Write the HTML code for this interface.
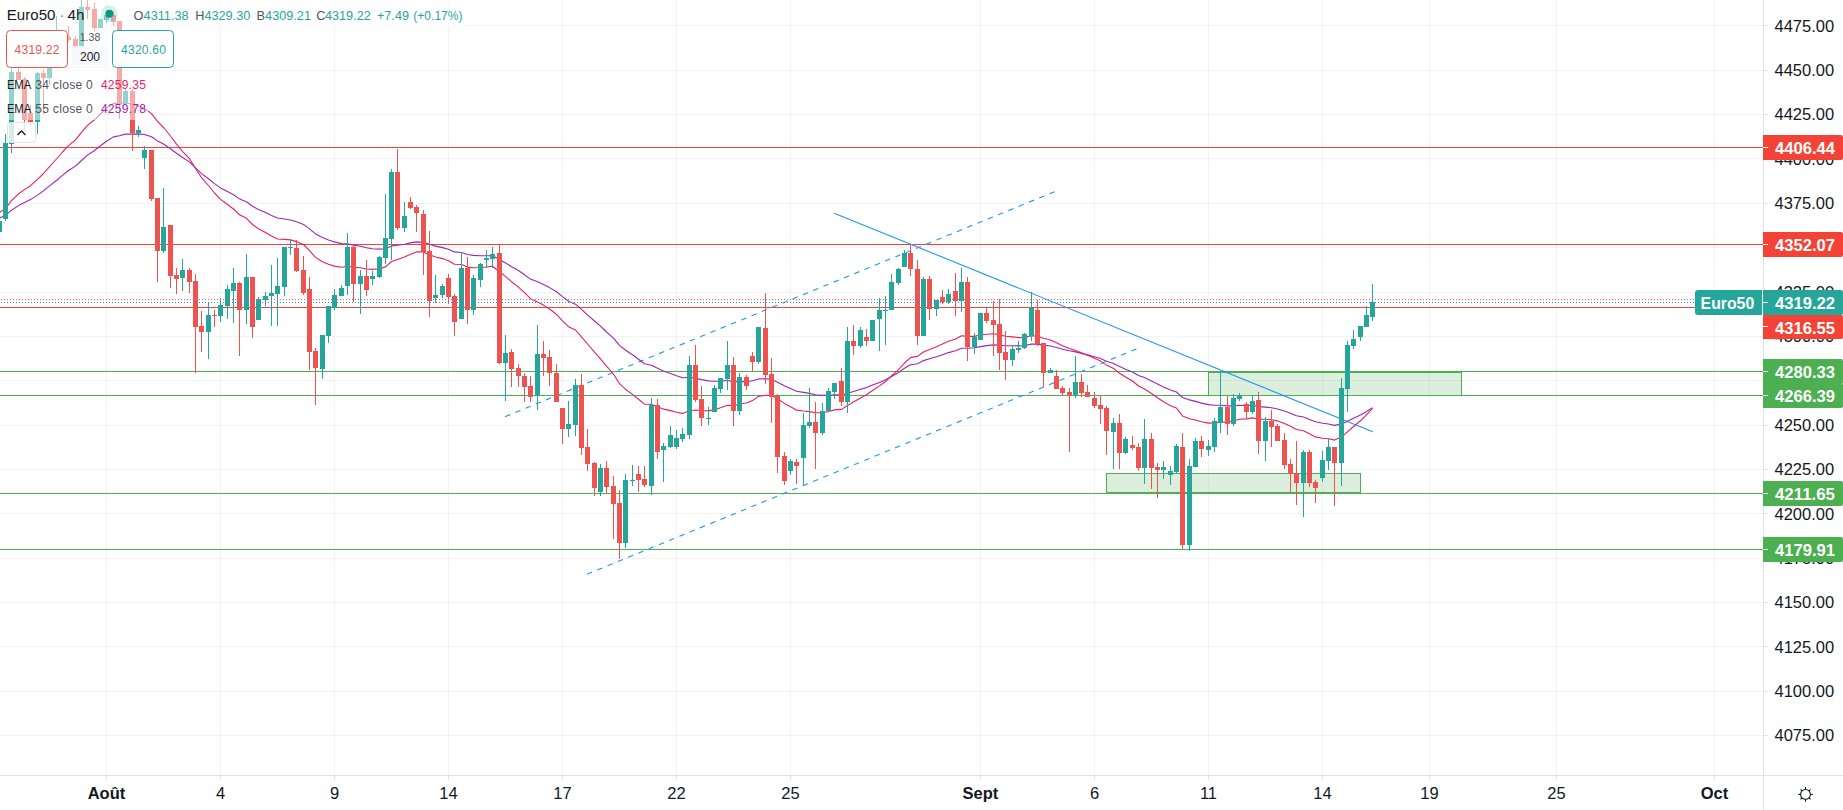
<!DOCTYPE html>
<html lang="fr"><head><meta charset="utf-8"><title>Euro50 4h</title>
<style>html,body{margin:0;padding:0;background:#fff;overflow:hidden}body{width:1843px;height:810px}svg{display:block}text{white-space:pre}</style>
</head><body>
<svg width="1843" height="810" viewBox="0 0 1843 810" font-family='"Liberation Sans", sans-serif'>
<rect width="1843" height="810" fill="#fff"/>
<g fill="rgba(42,46,57,0.06)" shape-rendering="crispEdges">
<rect x="106" y="0" width="1" height="775"/>
<rect x="220" y="0" width="1" height="775"/>
<rect x="334" y="0" width="1" height="775"/>
<rect x="448" y="0" width="1" height="775"/>
<rect x="562" y="0" width="1" height="775"/>
<rect x="676" y="0" width="1" height="775"/>
<rect x="790" y="0" width="1" height="775"/>
<rect x="980" y="0" width="1" height="775"/>
<rect x="1094" y="0" width="1" height="775"/>
<rect x="1208" y="0" width="1" height="775"/>
<rect x="1322" y="0" width="1" height="775"/>
<rect x="1429" y="0" width="1" height="775"/>
<rect x="1556" y="0" width="1" height="775"/>
<rect x="1714" y="0" width="1" height="775"/>
<rect x="0" y="25" width="1763" height="1"/>
<rect x="0" y="70" width="1763" height="1"/>
<rect x="0" y="114" width="1763" height="1"/>
<rect x="0" y="158" width="1763" height="1"/>
<rect x="0" y="203" width="1763" height="1"/>
<rect x="0" y="247" width="1763" height="1"/>
<rect x="0" y="292" width="1763" height="1"/>
<rect x="0" y="336" width="1763" height="1"/>
<rect x="0" y="380" width="1763" height="1"/>
<rect x="0" y="425" width="1763" height="1"/>
<rect x="0" y="469" width="1763" height="1"/>
<rect x="0" y="513" width="1763" height="1"/>
<rect x="0" y="558" width="1763" height="1"/>
<rect x="0" y="602" width="1763" height="1"/>
<rect x="0" y="646" width="1763" height="1"/>
<rect x="0" y="691" width="1763" height="1"/>
<rect x="0" y="735" width="1763" height="1"/>
</g>
<g shape-rendering="crispEdges">
<rect x="0" y="147" width="1763" height="1" fill="#f44336"/>
<rect x="0" y="244" width="1763" height="1" fill="#f44336"/>
<rect x="0" y="307" width="1763" height="1" fill="#f44336"/>
<rect x="0" y="371" width="1763" height="1" fill="#4caf50"/>
<rect x="0" y="395" width="1763" height="1" fill="#4caf50"/>
<rect x="0" y="493" width="1763" height="1" fill="#4caf50"/>
<rect x="0" y="549" width="1763" height="1" fill="#4caf50"/>
</g>
<rect x="1208.5" y="372.5" width="253" height="23" fill="rgba(76,175,80,0.2)" stroke="#4caf50" stroke-width="1"/>
<rect x="1106.5" y="473.5" width="254" height="19" fill="rgba(76,175,80,0.2)" stroke="#4caf50" stroke-width="1"/>
<g stroke="#2196f3" stroke-width="1.1" fill="none">
<line x1="834.2" y1="213.2" x2="1372.8" y2="431.8"/>
<line x1="505" y1="416.7" x2="1055.8" y2="191.2" stroke-dasharray="5.5 5.6"/>
<line x1="587" y1="574.2" x2="1138" y2="348.3" stroke-dasharray="5.5 5.6"/>
</g>
<path d="M-0.5,218.0 L5.5,215.3 L11.5,210.2 L18.5,205.6 L24.5,202.5 L30.5,199.6 L37.5,195.1 L43.5,190.9 L49.5,185.9 L56.5,180.5 L62.5,175.4 L68.5,170.5 L75.5,166.1 L81.5,160.5 L87.5,155.1 L94.5,150.5 L100.5,145.8 L106.5,141.2 L113.5,136.9 L119.5,135.7 L125.5,134.1 L132.5,134.1 L138.5,133.9 L144.5,134.5 L151.5,136.8 L157.5,140.9 L163.5,144.0 L170.5,148.7 L176.5,153.3 L182.5,157.5 L189.5,161.9 L195.5,167.8 L201.5,173.6 L208.5,178.7 L214.5,183.6 L220.5,187.9 L227.5,191.5 L233.5,194.8 L239.5,198.9 L246.5,201.7 L252.5,206.2 L258.5,209.5 L265.5,212.6 L271.5,215.5 L277.5,218.0 L284.5,219.0 L290.5,220.0 L296.5,221.8 L303.5,224.4 L309.5,228.9 L315.5,233.9 L322.5,237.5 L328.5,239.9 L334.5,241.9 L341.5,243.6 L347.5,243.7 L353.5,245.1 L360.5,246.2 L366.5,247.8 L372.5,248.8 L379.5,249.1 L385.5,248.7 L391.5,245.9 L397.5,245.3 L404.5,244.2 L410.5,242.9 L416.5,241.9 L423.5,242.2 L429.5,244.3 L435.5,246.1 L442.5,247.6 L448.5,249.3 L454.5,251.9 L461.5,252.5 L467.5,254.5 L473.5,255.4 L480.5,255.7 L486.5,255.8 L492.5,255.7 L499.5,259.5 L505.5,262.9 L511.5,266.7 L518.5,270.5 L524.5,274.7 L530.5,279.1 L537.5,281.8 L543.5,284.5 L549.5,287.6 L556.5,291.7 L562.5,296.6 L568.5,301.2 L575.5,304.2 L581.5,309.3 L587.5,314.8 L594.5,321.0 L600.5,326.2 L606.5,332.0 L613.5,338.1 L619.5,345.4 L625.5,350.2 L632.5,354.8 L638.5,359.3 L644.5,363.8 L651.5,365.2 L657.5,368.3 L663.5,371.1 L670.5,373.4 L676.5,375.7 L682.5,377.8 L689.5,377.3 L695.5,378.1 L701.5,379.6 L708.5,380.9 L714.5,381.2 L720.5,381.1 L727.5,380.5 L733.5,381.6 L739.5,381.4 L746.5,381.6 L752.5,380.8 L758.5,378.9 L765.5,378.8 L771.5,379.4 L777.5,382.2 L784.5,385.7 L790.5,388.4 L796.5,391.2 L803.5,392.4 L809.5,393.4 L815.5,394.8 L822.5,395.4 L828.5,395.3 L834.5,394.8 L841.5,395.1 L847.5,393.2 L853.5,391.5 L860.5,389.3 L866.5,387.6 L872.5,385.1 L879.5,382.5 L885.5,379.8 L891.5,376.4 L898.5,372.5 L904.5,368.3 L910.5,364.7 L917.5,363.7 L923.5,360.6 L929.5,358.8 L936.5,356.7 L942.5,354.7 L948.5,352.6 L955.5,350.7 L961.5,348.3 L967.5,348.2 L974.5,347.8 L980.5,346.6 L986.5,345.6 L993.5,344.9 L999.5,345.2 L1005.5,345.7 L1012.5,345.8 L1018.5,345.9 L1024.5,345.5 L1031.5,344.1 L1037.5,344.1 L1043.5,345.1 L1050.5,346.0 L1056.5,347.5 L1062.5,349.2 L1069.5,350.8 L1075.5,351.9 L1081.5,353.4 L1087.5,354.9 L1094.5,356.7 L1100.5,358.6 L1106.5,361.2 L1113.5,363.4 L1119.5,366.6 L1125.5,369.2 L1132.5,372.0 L1138.5,375.4 L1144.5,377.6 L1151.5,380.9 L1157.5,384.0 L1163.5,387.0 L1170.5,390.0 L1176.5,392.0 L1182.5,397.5 L1189.5,399.9 L1195.5,401.4 L1201.5,403.1 L1208.5,404.6 L1214.5,405.2 L1220.5,405.3 L1227.5,405.9 L1233.5,405.7 L1239.5,405.3 L1246.5,405.5 L1252.5,405.4 L1258.5,406.6 L1265.5,407.1 L1271.5,407.8 L1277.5,409.0 L1284.5,411.0 L1290.5,413.2 L1296.5,415.7 L1303.5,417.0 L1309.5,419.4 L1315.5,421.8 L1322.5,423.2 L1328.5,424.0 L1334.5,425.4 L1341.5,424.1 L1347.5,421.3 L1353.5,418.3 L1360.5,415.0 L1366.5,411.5 L1372.5,407.6" stroke="#9c27b0" stroke-width="1.1" fill="none" stroke-linejoin="round"/>
<path d="M-0.5,212.5 L5.5,208.5 L11.5,200.7 L18.5,193.8 L24.5,189.6 L30.5,185.7 L37.5,179.3 L43.5,173.5 L49.5,166.6 L56.5,159.0 L62.5,152.0 L68.5,145.6 L75.5,139.9 L81.5,132.4 L87.5,125.4 L94.5,119.8 L100.5,114.0 L106.5,108.4 L113.5,103.4 L119.5,103.5 L125.5,102.8 L132.5,104.5 L138.5,105.9 L144.5,108.4 L151.5,113.6 L157.5,121.4 L163.5,127.5 L170.5,136.0 L176.5,144.1 L182.5,151.3 L189.5,158.7 L195.5,168.3 L201.5,177.7 L208.5,185.5 L214.5,193.0 L220.5,199.4 L227.5,204.5 L233.5,209.0 L239.5,214.8 L246.5,218.3 L252.5,224.5 L258.5,228.8 L265.5,232.6 L271.5,236.1 L277.5,239.0 L284.5,239.4 L290.5,239.9 L296.5,241.6 L303.5,244.5 L309.5,250.7 L315.5,257.4 L322.5,261.8 L328.5,264.3 L334.5,266.1 L341.5,267.3 L347.5,266.2 L353.5,267.2 L360.5,267.7 L366.5,269.0 L372.5,269.4 L379.5,268.7 L385.5,266.9 L391.5,261.5 L397.5,259.5 L404.5,257.1 L410.5,254.2 L416.5,251.9 L423.5,251.9 L429.5,254.7 L435.5,257.0 L442.5,258.6 L448.5,260.8 L454.5,264.3 L461.5,264.5 L467.5,267.1 L473.5,267.7 L480.5,267.5 L486.5,267.0 L492.5,266.2 L499.5,271.8 L505.5,276.4 L511.5,281.7 L518.5,287.1 L524.5,292.7 L530.5,298.7 L537.5,301.9 L543.5,305.1 L549.5,309.0 L556.5,314.3 L562.5,320.8 L568.5,326.7 L575.5,330.0 L581.5,336.8 L587.5,344.0 L594.5,352.2 L600.5,358.9 L606.5,366.2 L613.5,374.0 L619.5,383.7 L625.5,389.2 L632.5,394.4 L638.5,399.2 L644.5,404.1 L651.5,404.2 L657.5,406.9 L663.5,409.1 L670.5,410.6 L676.5,412.2 L682.5,413.4 L689.5,410.7 L695.5,410.0 L701.5,410.5 L708.5,410.9 L714.5,409.6 L720.5,407.8 L727.5,405.3 L733.5,405.7 L739.5,404.0 L746.5,403.0 L752.5,400.6 L758.5,396.4 L765.5,395.2 L771.5,395.2 L777.5,398.8 L784.5,403.4 L790.5,406.7 L796.5,410.1 L803.5,411.0 L809.5,411.6 L815.5,412.8 L822.5,412.7 L828.5,411.5 L834.5,409.9 L841.5,409.4 L847.5,405.5 L853.5,402.1 L860.5,398.0 L866.5,394.7 L872.5,390.5 L879.5,385.9 L885.5,381.5 L891.5,375.8 L898.5,369.7 L904.5,363.0 L910.5,357.6 L917.5,356.4 L923.5,352.0 L929.5,349.5 L936.5,346.7 L942.5,344.1 L948.5,341.3 L955.5,339.0 L961.5,335.7 L967.5,336.4 L974.5,336.4 L980.5,335.0 L986.5,334.2 L993.5,333.7 L999.5,334.8 L1005.5,336.2 L1012.5,336.9 L1018.5,337.6 L1024.5,337.4 L1031.5,335.7 L1037.5,336.2 L1043.5,338.2 L1050.5,340.0 L1056.5,342.8 L1062.5,345.7 L1069.5,348.5 L1075.5,350.4 L1081.5,352.8 L1087.5,355.3 L1094.5,358.2 L1100.5,361.1 L1106.5,365.1 L1113.5,368.4 L1119.5,373.2 L1125.5,377.0 L1132.5,381.0 L1138.5,386.0 L1144.5,389.0 L1151.5,393.5 L1157.5,397.8 L1163.5,401.8 L1170.5,405.8 L1176.5,408.1 L1182.5,415.9 L1189.5,418.7 L1195.5,420.0 L1201.5,421.7 L1208.5,423.1 L1214.5,423.0 L1220.5,422.1 L1227.5,422.2 L1233.5,420.8 L1239.5,419.3 L1246.5,418.9 L1252.5,417.9 L1258.5,419.2 L1265.5,419.3 L1271.5,419.7 L1277.5,420.9 L1284.5,423.4 L1290.5,426.3 L1296.5,429.5 L1303.5,430.8 L1309.5,433.8 L1315.5,436.9 L1322.5,438.2 L1328.5,438.7 L1334.5,440.1 L1341.5,437.1 L1347.5,431.8 L1353.5,426.5 L1360.5,420.8 L1366.5,414.8 L1372.5,408.3" stroke="#e91e63" stroke-width="1.1" fill="none" stroke-linejoin="round"/>
<g shape-rendering="crispEdges">
<rect x="-1" y="219" width="1" height="15" fill="#26a69a"/>
<rect x="-3" y="221" width="5" height="11" fill="#26a69a"/>
<rect x="5" y="134" width="1" height="87" fill="#26a69a"/>
<rect x="3" y="143" width="5" height="76" fill="#26a69a"/>
<rect x="11" y="64" width="1" height="89" fill="#26a69a"/>
<rect x="9" y="72" width="5" height="72" fill="#26a69a"/>
<rect x="18" y="62" width="1" height="18" fill="#ef5350"/>
<rect x="16" y="72" width="5" height="8" fill="#ef5350"/>
<rect x="24" y="77" width="1" height="55" fill="#ef5350"/>
<rect x="22" y="79" width="5" height="41" fill="#ef5350"/>
<rect x="30" y="105" width="1" height="22" fill="#ef5350"/>
<rect x="28" y="113" width="5" height="9" fill="#ef5350"/>
<rect x="37" y="72" width="1" height="62" fill="#26a69a"/>
<rect x="35" y="73" width="5" height="49" fill="#26a69a"/>
<rect x="43" y="70" width="1" height="44" fill="#ef5350"/>
<rect x="41" y="73" width="5" height="5" fill="#ef5350"/>
<rect x="49" y="48" width="1" height="37" fill="#26a69a"/>
<rect x="47" y="52" width="5" height="26" fill="#26a69a"/>
<rect x="56" y="16" width="1" height="38" fill="#26a69a"/>
<rect x="54" y="34" width="5" height="18" fill="#26a69a"/>
<rect x="62" y="30" width="1" height="10" fill="#ef5350"/>
<rect x="60" y="34" width="5" height="3" fill="#ef5350"/>
<rect x="68" y="26" width="1" height="16" fill="#ef5350"/>
<rect x="66" y="37" width="5" height="3" fill="#ef5350"/>
<rect x="75" y="36" width="1" height="14" fill="#ef5350"/>
<rect x="73" y="39" width="5" height="8" fill="#ef5350"/>
<rect x="81" y="-5" width="1" height="51" fill="#26a69a"/>
<rect x="79" y="7" width="5" height="39" fill="#26a69a"/>
<rect x="87" y="-5" width="1" height="24" fill="#ef5350"/>
<rect x="85" y="7" width="5" height="3" fill="#ef5350"/>
<rect x="94" y="3" width="1" height="28" fill="#ef5350"/>
<rect x="92" y="9" width="5" height="19" fill="#ef5350"/>
<rect x="100" y="19" width="1" height="9" fill="#26a69a"/>
<rect x="98" y="19" width="5" height="9" fill="#26a69a"/>
<rect x="106" y="13" width="1" height="10" fill="#26a69a"/>
<rect x="104" y="15" width="5" height="5" fill="#26a69a"/>
<rect x="113" y="12" width="1" height="14" fill="#ef5350"/>
<rect x="111" y="15" width="5" height="7" fill="#ef5350"/>
<rect x="119" y="21" width="1" height="98" fill="#ef5350"/>
<rect x="117" y="21" width="5" height="83" fill="#ef5350"/>
<rect x="125" y="89" width="1" height="15" fill="#26a69a"/>
<rect x="123" y="91" width="5" height="13" fill="#26a69a"/>
<rect x="132" y="89" width="1" height="62" fill="#ef5350"/>
<rect x="130" y="91" width="5" height="42" fill="#ef5350"/>
<rect x="138" y="126" width="1" height="11" fill="#26a69a"/>
<rect x="136" y="130" width="5" height="3" fill="#26a69a"/>
<rect x="144" y="146" width="1" height="23" fill="#26a69a"/>
<rect x="142" y="150" width="5" height="8" fill="#26a69a"/>
<rect x="151" y="150" width="1" height="51" fill="#ef5350"/>
<rect x="149" y="150" width="5" height="49" fill="#ef5350"/>
<rect x="157" y="198" width="1" height="84" fill="#ef5350"/>
<rect x="155" y="198" width="5" height="53" fill="#ef5350"/>
<rect x="163" y="188" width="1" height="65" fill="#26a69a"/>
<rect x="161" y="227" width="5" height="24" fill="#26a69a"/>
<rect x="170" y="225" width="1" height="63" fill="#ef5350"/>
<rect x="168" y="225" width="5" height="51" fill="#ef5350"/>
<rect x="176" y="268" width="1" height="26" fill="#ef5350"/>
<rect x="174" y="275" width="5" height="4" fill="#ef5350"/>
<rect x="182" y="259" width="1" height="32" fill="#26a69a"/>
<rect x="180" y="270" width="5" height="8" fill="#26a69a"/>
<rect x="189" y="268" width="1" height="25" fill="#ef5350"/>
<rect x="187" y="270" width="5" height="12" fill="#ef5350"/>
<rect x="195" y="274" width="1" height="99" fill="#ef5350"/>
<rect x="193" y="281" width="5" height="46" fill="#ef5350"/>
<rect x="201" y="311" width="1" height="41" fill="#ef5350"/>
<rect x="199" y="326" width="5" height="6" fill="#ef5350"/>
<rect x="208" y="302" width="1" height="57" fill="#26a69a"/>
<rect x="206" y="315" width="5" height="17" fill="#26a69a"/>
<rect x="214" y="310" width="1" height="17" fill="#ef5350"/>
<rect x="212" y="315" width="5" height="1" fill="#ef5350"/>
<rect x="220" y="298" width="1" height="24" fill="#26a69a"/>
<rect x="218" y="305" width="5" height="11" fill="#26a69a"/>
<rect x="227" y="285" width="1" height="34" fill="#26a69a"/>
<rect x="225" y="289" width="5" height="17" fill="#26a69a"/>
<rect x="233" y="268" width="1" height="55" fill="#26a69a"/>
<rect x="231" y="283" width="5" height="8" fill="#26a69a"/>
<rect x="239" y="282" width="1" height="74" fill="#ef5350"/>
<rect x="237" y="283" width="5" height="27" fill="#ef5350"/>
<rect x="246" y="254" width="1" height="70" fill="#26a69a"/>
<rect x="244" y="277" width="5" height="33" fill="#26a69a"/>
<rect x="252" y="277" width="1" height="61" fill="#ef5350"/>
<rect x="250" y="277" width="5" height="50" fill="#ef5350"/>
<rect x="258" y="297" width="1" height="23" fill="#26a69a"/>
<rect x="256" y="299" width="5" height="21" fill="#26a69a"/>
<rect x="265" y="292" width="1" height="14" fill="#26a69a"/>
<rect x="263" y="296" width="5" height="4" fill="#26a69a"/>
<rect x="271" y="265" width="1" height="61" fill="#26a69a"/>
<rect x="269" y="293" width="5" height="3" fill="#26a69a"/>
<rect x="277" y="258" width="1" height="68" fill="#26a69a"/>
<rect x="275" y="286" width="5" height="8" fill="#26a69a"/>
<rect x="284" y="247" width="1" height="49" fill="#26a69a"/>
<rect x="282" y="247" width="5" height="40" fill="#26a69a"/>
<rect x="290" y="240" width="1" height="15" fill="#26a69a"/>
<rect x="288" y="247" width="5" height="1" fill="#26a69a"/>
<rect x="296" y="240" width="1" height="32" fill="#ef5350"/>
<rect x="294" y="248" width="5" height="23" fill="#ef5350"/>
<rect x="303" y="256" width="1" height="39" fill="#ef5350"/>
<rect x="301" y="270" width="5" height="23" fill="#ef5350"/>
<rect x="309" y="277" width="1" height="93" fill="#ef5350"/>
<rect x="307" y="289" width="5" height="63" fill="#ef5350"/>
<rect x="315" y="348" width="1" height="57" fill="#ef5350"/>
<rect x="313" y="351" width="5" height="17" fill="#ef5350"/>
<rect x="322" y="335" width="1" height="44" fill="#26a69a"/>
<rect x="320" y="335" width="5" height="34" fill="#26a69a"/>
<rect x="328" y="306" width="1" height="37" fill="#26a69a"/>
<rect x="326" y="306" width="5" height="30" fill="#26a69a"/>
<rect x="334" y="289" width="1" height="21" fill="#26a69a"/>
<rect x="332" y="295" width="5" height="13" fill="#26a69a"/>
<rect x="341" y="285" width="1" height="11" fill="#26a69a"/>
<rect x="339" y="288" width="5" height="8" fill="#26a69a"/>
<rect x="347" y="233" width="1" height="62" fill="#26a69a"/>
<rect x="345" y="247" width="5" height="39" fill="#26a69a"/>
<rect x="353" y="245" width="1" height="57" fill="#ef5350"/>
<rect x="351" y="247" width="5" height="37" fill="#ef5350"/>
<rect x="360" y="270" width="1" height="44" fill="#26a69a"/>
<rect x="358" y="276" width="5" height="8" fill="#26a69a"/>
<rect x="366" y="260" width="1" height="36" fill="#ef5350"/>
<rect x="364" y="276" width="5" height="14" fill="#ef5350"/>
<rect x="372" y="271" width="1" height="14" fill="#26a69a"/>
<rect x="370" y="276" width="5" height="3" fill="#26a69a"/>
<rect x="379" y="256" width="1" height="22" fill="#26a69a"/>
<rect x="377" y="257" width="5" height="20" fill="#26a69a"/>
<rect x="385" y="194" width="1" height="70" fill="#26a69a"/>
<rect x="383" y="238" width="5" height="20" fill="#26a69a"/>
<rect x="391" y="169" width="1" height="91" fill="#26a69a"/>
<rect x="389" y="172" width="5" height="67" fill="#26a69a"/>
<rect x="397" y="149" width="1" height="81" fill="#ef5350"/>
<rect x="395" y="172" width="5" height="56" fill="#ef5350"/>
<rect x="404" y="202" width="1" height="30" fill="#26a69a"/>
<rect x="402" y="216" width="5" height="12" fill="#26a69a"/>
<rect x="410" y="197" width="1" height="12" fill="#ef5350"/>
<rect x="408" y="202" width="5" height="6" fill="#ef5350"/>
<rect x="416" y="205" width="1" height="27" fill="#ef5350"/>
<rect x="414" y="207" width="5" height="6" fill="#ef5350"/>
<rect x="423" y="210" width="1" height="65" fill="#ef5350"/>
<rect x="421" y="214" width="5" height="38" fill="#ef5350"/>
<rect x="429" y="231" width="1" height="86" fill="#ef5350"/>
<rect x="427" y="251" width="5" height="50" fill="#ef5350"/>
<rect x="435" y="275" width="1" height="28" fill="#26a69a"/>
<rect x="433" y="295" width="5" height="3" fill="#26a69a"/>
<rect x="442" y="284" width="1" height="14" fill="#26a69a"/>
<rect x="440" y="286" width="5" height="9" fill="#26a69a"/>
<rect x="448" y="274" width="1" height="30" fill="#ef5350"/>
<rect x="446" y="278" width="5" height="19" fill="#ef5350"/>
<rect x="454" y="294" width="1" height="42" fill="#ef5350"/>
<rect x="452" y="296" width="5" height="26" fill="#ef5350"/>
<rect x="461" y="252" width="1" height="67" fill="#26a69a"/>
<rect x="459" y="268" width="5" height="51" fill="#26a69a"/>
<rect x="467" y="257" width="1" height="67" fill="#ef5350"/>
<rect x="465" y="268" width="5" height="42" fill="#ef5350"/>
<rect x="473" y="275" width="1" height="40" fill="#26a69a"/>
<rect x="471" y="278" width="5" height="32" fill="#26a69a"/>
<rect x="480" y="263" width="1" height="24" fill="#26a69a"/>
<rect x="478" y="264" width="5" height="16" fill="#26a69a"/>
<rect x="486" y="250" width="1" height="18" fill="#26a69a"/>
<rect x="484" y="258" width="5" height="2" fill="#26a69a"/>
<rect x="492" y="247" width="1" height="21" fill="#26a69a"/>
<rect x="490" y="254" width="5" height="5" fill="#26a69a"/>
<rect x="499" y="245" width="1" height="119" fill="#ef5350"/>
<rect x="497" y="253" width="5" height="110" fill="#ef5350"/>
<rect x="505" y="335" width="1" height="66" fill="#26a69a"/>
<rect x="503" y="353" width="5" height="10" fill="#26a69a"/>
<rect x="511" y="349" width="1" height="38" fill="#ef5350"/>
<rect x="509" y="352" width="5" height="17" fill="#ef5350"/>
<rect x="518" y="364" width="1" height="23" fill="#ef5350"/>
<rect x="516" y="368" width="5" height="8" fill="#ef5350"/>
<rect x="524" y="373" width="1" height="29" fill="#ef5350"/>
<rect x="522" y="376" width="5" height="11" fill="#ef5350"/>
<rect x="530" y="376" width="1" height="26" fill="#ef5350"/>
<rect x="528" y="386" width="5" height="11" fill="#ef5350"/>
<rect x="537" y="325" width="1" height="85" fill="#26a69a"/>
<rect x="535" y="354" width="5" height="42" fill="#26a69a"/>
<rect x="543" y="341" width="1" height="35" fill="#ef5350"/>
<rect x="541" y="354" width="5" height="4" fill="#ef5350"/>
<rect x="549" y="350" width="1" height="36" fill="#ef5350"/>
<rect x="547" y="357" width="5" height="16" fill="#ef5350"/>
<rect x="556" y="364" width="1" height="38" fill="#ef5350"/>
<rect x="554" y="373" width="5" height="29" fill="#ef5350"/>
<rect x="562" y="408" width="1" height="36" fill="#ef5350"/>
<rect x="560" y="408" width="5" height="21" fill="#ef5350"/>
<rect x="568" y="401" width="1" height="36" fill="#26a69a"/>
<rect x="566" y="424" width="5" height="5" fill="#26a69a"/>
<rect x="575" y="379" width="1" height="57" fill="#26a69a"/>
<rect x="573" y="385" width="5" height="40" fill="#26a69a"/>
<rect x="581" y="374" width="1" height="81" fill="#ef5350"/>
<rect x="579" y="385" width="5" height="63" fill="#ef5350"/>
<rect x="587" y="429" width="1" height="42" fill="#ef5350"/>
<rect x="585" y="447" width="5" height="17" fill="#ef5350"/>
<rect x="594" y="462" width="1" height="34" fill="#ef5350"/>
<rect x="592" y="463" width="5" height="25" fill="#ef5350"/>
<rect x="600" y="464" width="1" height="32" fill="#26a69a"/>
<rect x="598" y="468" width="5" height="24" fill="#26a69a"/>
<rect x="606" y="461" width="1" height="33" fill="#ef5350"/>
<rect x="604" y="468" width="5" height="19" fill="#ef5350"/>
<rect x="613" y="476" width="1" height="63" fill="#ef5350"/>
<rect x="611" y="486" width="5" height="18" fill="#ef5350"/>
<rect x="619" y="490" width="1" height="69" fill="#ef5350"/>
<rect x="617" y="503" width="5" height="40" fill="#ef5350"/>
<rect x="625" y="474" width="1" height="74" fill="#26a69a"/>
<rect x="623" y="480" width="5" height="63" fill="#26a69a"/>
<rect x="632" y="465" width="1" height="21" fill="#26a69a"/>
<rect x="630" y="480" width="5" height="1" fill="#26a69a"/>
<rect x="638" y="466" width="1" height="26" fill="#ef5350"/>
<rect x="636" y="474" width="5" height="6" fill="#ef5350"/>
<rect x="644" y="466" width="1" height="21" fill="#ef5350"/>
<rect x="642" y="479" width="5" height="6" fill="#ef5350"/>
<rect x="651" y="398" width="1" height="97" fill="#26a69a"/>
<rect x="649" y="405" width="5" height="81" fill="#26a69a"/>
<rect x="657" y="399" width="1" height="60" fill="#ef5350"/>
<rect x="655" y="405" width="5" height="47" fill="#ef5350"/>
<rect x="663" y="443" width="1" height="39" fill="#26a69a"/>
<rect x="661" y="446" width="5" height="4" fill="#26a69a"/>
<rect x="670" y="426" width="1" height="22" fill="#26a69a"/>
<rect x="668" y="435" width="5" height="12" fill="#26a69a"/>
<rect x="676" y="430" width="1" height="19" fill="#26a69a"/>
<rect x="674" y="438" width="5" height="9" fill="#26a69a"/>
<rect x="682" y="428" width="1" height="14" fill="#26a69a"/>
<rect x="680" y="434" width="5" height="5" fill="#26a69a"/>
<rect x="689" y="356" width="1" height="83" fill="#26a69a"/>
<rect x="687" y="365" width="5" height="70" fill="#26a69a"/>
<rect x="695" y="345" width="1" height="57" fill="#ef5350"/>
<rect x="693" y="365" width="5" height="35" fill="#ef5350"/>
<rect x="701" y="386" width="1" height="40" fill="#ef5350"/>
<rect x="699" y="399" width="5" height="19" fill="#ef5350"/>
<rect x="708" y="407" width="1" height="18" fill="#26a69a"/>
<rect x="706" y="418" width="5" height="1" fill="#26a69a"/>
<rect x="714" y="385" width="1" height="27" fill="#26a69a"/>
<rect x="712" y="388" width="5" height="24" fill="#26a69a"/>
<rect x="720" y="378" width="1" height="15" fill="#26a69a"/>
<rect x="718" y="378" width="5" height="11" fill="#26a69a"/>
<rect x="727" y="341" width="1" height="49" fill="#26a69a"/>
<rect x="725" y="365" width="5" height="14" fill="#26a69a"/>
<rect x="733" y="357" width="1" height="69" fill="#ef5350"/>
<rect x="731" y="365" width="5" height="46" fill="#ef5350"/>
<rect x="739" y="373" width="1" height="42" fill="#26a69a"/>
<rect x="737" y="377" width="5" height="34" fill="#26a69a"/>
<rect x="746" y="375" width="1" height="15" fill="#ef5350"/>
<rect x="744" y="377" width="5" height="9" fill="#ef5350"/>
<rect x="752" y="352" width="1" height="19" fill="#ef5350"/>
<rect x="750" y="356" width="5" height="6" fill="#ef5350"/>
<rect x="758" y="327" width="1" height="37" fill="#26a69a"/>
<rect x="756" y="327" width="5" height="35" fill="#26a69a"/>
<rect x="765" y="293" width="1" height="91" fill="#ef5350"/>
<rect x="763" y="328" width="5" height="47" fill="#ef5350"/>
<rect x="771" y="358" width="1" height="65" fill="#ef5350"/>
<rect x="769" y="374" width="5" height="23" fill="#ef5350"/>
<rect x="777" y="394" width="1" height="79" fill="#ef5350"/>
<rect x="775" y="396" width="5" height="61" fill="#ef5350"/>
<rect x="784" y="452" width="1" height="33" fill="#ef5350"/>
<rect x="782" y="456" width="5" height="25" fill="#ef5350"/>
<rect x="790" y="459" width="1" height="16" fill="#26a69a"/>
<rect x="788" y="461" width="5" height="10" fill="#26a69a"/>
<rect x="796" y="459" width="1" height="25" fill="#ef5350"/>
<rect x="794" y="462" width="5" height="4" fill="#ef5350"/>
<rect x="803" y="413" width="1" height="73" fill="#26a69a"/>
<rect x="801" y="425" width="5" height="33" fill="#26a69a"/>
<rect x="809" y="388" width="1" height="40" fill="#26a69a"/>
<rect x="807" y="422" width="5" height="4" fill="#26a69a"/>
<rect x="815" y="402" width="1" height="67" fill="#ef5350"/>
<rect x="813" y="422" width="5" height="11" fill="#ef5350"/>
<rect x="822" y="403" width="1" height="32" fill="#26a69a"/>
<rect x="820" y="411" width="5" height="22" fill="#26a69a"/>
<rect x="828" y="388" width="1" height="23" fill="#26a69a"/>
<rect x="826" y="391" width="5" height="20" fill="#26a69a"/>
<rect x="834" y="383" width="1" height="16" fill="#26a69a"/>
<rect x="832" y="383" width="5" height="9" fill="#26a69a"/>
<rect x="841" y="368" width="1" height="38" fill="#ef5350"/>
<rect x="839" y="381" width="5" height="21" fill="#ef5350"/>
<rect x="847" y="327" width="1" height="86" fill="#26a69a"/>
<rect x="845" y="341" width="5" height="61" fill="#26a69a"/>
<rect x="853" y="325" width="1" height="30" fill="#ef5350"/>
<rect x="851" y="341" width="5" height="5" fill="#ef5350"/>
<rect x="860" y="327" width="1" height="21" fill="#26a69a"/>
<rect x="858" y="330" width="5" height="16" fill="#26a69a"/>
<rect x="866" y="329" width="1" height="17" fill="#ef5350"/>
<rect x="864" y="337" width="5" height="4" fill="#ef5350"/>
<rect x="872" y="320" width="1" height="21" fill="#26a69a"/>
<rect x="870" y="320" width="5" height="21" fill="#26a69a"/>
<rect x="879" y="298" width="1" height="53" fill="#26a69a"/>
<rect x="877" y="310" width="5" height="9" fill="#26a69a"/>
<rect x="885" y="296" width="1" height="49" fill="#26a69a"/>
<rect x="883" y="310" width="5" height="1" fill="#26a69a"/>
<rect x="891" y="274" width="1" height="36" fill="#26a69a"/>
<rect x="889" y="282" width="5" height="28" fill="#26a69a"/>
<rect x="898" y="268" width="1" height="17" fill="#26a69a"/>
<rect x="896" y="269" width="5" height="14" fill="#26a69a"/>
<rect x="904" y="250" width="1" height="17" fill="#26a69a"/>
<rect x="902" y="253" width="5" height="14" fill="#26a69a"/>
<rect x="910" y="245" width="1" height="31" fill="#ef5350"/>
<rect x="908" y="253" width="5" height="16" fill="#ef5350"/>
<rect x="917" y="260" width="1" height="85" fill="#ef5350"/>
<rect x="915" y="269" width="5" height="67" fill="#ef5350"/>
<rect x="923" y="277" width="1" height="59" fill="#26a69a"/>
<rect x="921" y="279" width="5" height="57" fill="#26a69a"/>
<rect x="929" y="276" width="1" height="44" fill="#ef5350"/>
<rect x="927" y="279" width="5" height="30" fill="#ef5350"/>
<rect x="936" y="300" width="1" height="16" fill="#26a69a"/>
<rect x="934" y="300" width="5" height="9" fill="#26a69a"/>
<rect x="942" y="290" width="1" height="14" fill="#ef5350"/>
<rect x="940" y="297" width="5" height="5" fill="#ef5350"/>
<rect x="948" y="289" width="1" height="15" fill="#26a69a"/>
<rect x="946" y="294" width="5" height="8" fill="#26a69a"/>
<rect x="955" y="273" width="1" height="43" fill="#ef5350"/>
<rect x="953" y="291" width="5" height="10" fill="#ef5350"/>
<rect x="961" y="268" width="1" height="44" fill="#26a69a"/>
<rect x="959" y="282" width="5" height="19" fill="#26a69a"/>
<rect x="967" y="277" width="1" height="84" fill="#ef5350"/>
<rect x="965" y="282" width="5" height="65" fill="#ef5350"/>
<rect x="974" y="333" width="1" height="21" fill="#26a69a"/>
<rect x="972" y="337" width="5" height="10" fill="#26a69a"/>
<rect x="980" y="313" width="1" height="27" fill="#26a69a"/>
<rect x="978" y="313" width="5" height="27" fill="#26a69a"/>
<rect x="986" y="308" width="1" height="15" fill="#ef5350"/>
<rect x="984" y="313" width="5" height="8" fill="#ef5350"/>
<rect x="993" y="301" width="1" height="55" fill="#ef5350"/>
<rect x="991" y="320" width="5" height="5" fill="#ef5350"/>
<rect x="999" y="299" width="1" height="71" fill="#ef5350"/>
<rect x="997" y="324" width="5" height="29" fill="#ef5350"/>
<rect x="1005" y="331" width="1" height="49" fill="#ef5350"/>
<rect x="1003" y="352" width="5" height="8" fill="#ef5350"/>
<rect x="1012" y="346" width="1" height="20" fill="#26a69a"/>
<rect x="1010" y="349" width="5" height="11" fill="#26a69a"/>
<rect x="1018" y="341" width="1" height="12" fill="#26a69a"/>
<rect x="1016" y="348" width="5" height="2" fill="#26a69a"/>
<rect x="1024" y="333" width="1" height="16" fill="#26a69a"/>
<rect x="1022" y="334" width="5" height="14" fill="#26a69a"/>
<rect x="1031" y="292" width="1" height="49" fill="#26a69a"/>
<rect x="1029" y="308" width="5" height="28" fill="#26a69a"/>
<rect x="1037" y="300" width="1" height="46" fill="#ef5350"/>
<rect x="1035" y="310" width="5" height="34" fill="#ef5350"/>
<rect x="1043" y="343" width="1" height="44" fill="#ef5350"/>
<rect x="1041" y="343" width="5" height="30" fill="#ef5350"/>
<rect x="1050" y="368" width="1" height="5" fill="#26a69a"/>
<rect x="1048" y="370" width="5" height="3" fill="#26a69a"/>
<rect x="1056" y="370" width="1" height="19" fill="#ef5350"/>
<rect x="1054" y="376" width="5" height="13" fill="#ef5350"/>
<rect x="1062" y="386" width="1" height="10" fill="#ef5350"/>
<rect x="1060" y="388" width="5" height="5" fill="#ef5350"/>
<rect x="1069" y="388" width="1" height="64" fill="#ef5350"/>
<rect x="1067" y="392" width="5" height="3" fill="#ef5350"/>
<rect x="1075" y="356" width="1" height="42" fill="#26a69a"/>
<rect x="1073" y="382" width="5" height="13" fill="#26a69a"/>
<rect x="1081" y="374" width="1" height="23" fill="#ef5350"/>
<rect x="1079" y="382" width="5" height="11" fill="#ef5350"/>
<rect x="1087" y="385" width="1" height="12" fill="#ef5350"/>
<rect x="1085" y="392" width="5" height="5" fill="#ef5350"/>
<rect x="1094" y="392" width="1" height="16" fill="#ef5350"/>
<rect x="1092" y="398" width="5" height="8" fill="#ef5350"/>
<rect x="1100" y="396" width="1" height="28" fill="#ef5350"/>
<rect x="1098" y="405" width="5" height="4" fill="#ef5350"/>
<rect x="1106" y="406" width="1" height="49" fill="#ef5350"/>
<rect x="1104" y="408" width="5" height="23" fill="#ef5350"/>
<rect x="1113" y="418" width="1" height="51" fill="#26a69a"/>
<rect x="1111" y="423" width="5" height="9" fill="#26a69a"/>
<rect x="1119" y="414" width="1" height="55" fill="#ef5350"/>
<rect x="1117" y="423" width="5" height="30" fill="#ef5350"/>
<rect x="1125" y="437" width="1" height="17" fill="#26a69a"/>
<rect x="1123" y="439" width="5" height="14" fill="#26a69a"/>
<rect x="1132" y="436" width="1" height="14" fill="#ef5350"/>
<rect x="1130" y="445" width="5" height="3" fill="#ef5350"/>
<rect x="1138" y="443" width="1" height="28" fill="#ef5350"/>
<rect x="1136" y="447" width="5" height="21" fill="#ef5350"/>
<rect x="1144" y="419" width="1" height="65" fill="#26a69a"/>
<rect x="1142" y="439" width="5" height="29" fill="#26a69a"/>
<rect x="1151" y="433" width="1" height="56" fill="#ef5350"/>
<rect x="1149" y="439" width="5" height="29" fill="#ef5350"/>
<rect x="1157" y="463" width="1" height="35" fill="#ef5350"/>
<rect x="1155" y="467" width="5" height="3" fill="#ef5350"/>
<rect x="1163" y="461" width="1" height="18" fill="#26a69a"/>
<rect x="1161" y="467" width="5" height="3" fill="#26a69a"/>
<rect x="1170" y="466" width="1" height="19" fill="#26a69a"/>
<rect x="1168" y="471" width="5" height="4" fill="#26a69a"/>
<rect x="1176" y="444" width="1" height="29" fill="#26a69a"/>
<rect x="1174" y="446" width="5" height="26" fill="#26a69a"/>
<rect x="1182" y="433" width="1" height="116" fill="#ef5350"/>
<rect x="1180" y="447" width="5" height="98" fill="#ef5350"/>
<rect x="1189" y="459" width="1" height="92" fill="#26a69a"/>
<rect x="1187" y="466" width="5" height="79" fill="#26a69a"/>
<rect x="1195" y="438" width="1" height="29" fill="#26a69a"/>
<rect x="1193" y="441" width="5" height="26" fill="#26a69a"/>
<rect x="1201" y="436" width="1" height="21" fill="#ef5350"/>
<rect x="1199" y="441" width="5" height="8" fill="#ef5350"/>
<rect x="1208" y="440" width="1" height="16" fill="#26a69a"/>
<rect x="1206" y="446" width="5" height="4" fill="#26a69a"/>
<rect x="1214" y="418" width="1" height="34" fill="#26a69a"/>
<rect x="1212" y="421" width="5" height="26" fill="#26a69a"/>
<rect x="1220" y="371" width="1" height="62" fill="#26a69a"/>
<rect x="1218" y="407" width="5" height="16" fill="#26a69a"/>
<rect x="1227" y="396" width="1" height="39" fill="#ef5350"/>
<rect x="1225" y="407" width="5" height="17" fill="#ef5350"/>
<rect x="1233" y="394" width="1" height="32" fill="#26a69a"/>
<rect x="1231" y="398" width="5" height="26" fill="#26a69a"/>
<rect x="1239" y="393" width="1" height="8" fill="#26a69a"/>
<rect x="1237" y="395" width="5" height="4" fill="#26a69a"/>
<rect x="1246" y="402" width="1" height="16" fill="#ef5350"/>
<rect x="1244" y="404" width="5" height="8" fill="#ef5350"/>
<rect x="1252" y="396" width="1" height="18" fill="#26a69a"/>
<rect x="1250" y="401" width="5" height="11" fill="#26a69a"/>
<rect x="1258" y="392" width="1" height="62" fill="#ef5350"/>
<rect x="1256" y="400" width="5" height="41" fill="#ef5350"/>
<rect x="1265" y="417" width="1" height="44" fill="#26a69a"/>
<rect x="1263" y="421" width="5" height="20" fill="#26a69a"/>
<rect x="1271" y="410" width="1" height="37" fill="#ef5350"/>
<rect x="1269" y="421" width="5" height="6" fill="#ef5350"/>
<rect x="1277" y="424" width="1" height="17" fill="#ef5350"/>
<rect x="1275" y="426" width="5" height="15" fill="#ef5350"/>
<rect x="1284" y="433" width="1" height="36" fill="#ef5350"/>
<rect x="1282" y="440" width="5" height="25" fill="#ef5350"/>
<rect x="1290" y="459" width="1" height="34" fill="#ef5350"/>
<rect x="1288" y="464" width="5" height="10" fill="#ef5350"/>
<rect x="1296" y="441" width="1" height="64" fill="#ef5350"/>
<rect x="1294" y="473" width="5" height="10" fill="#ef5350"/>
<rect x="1303" y="450" width="1" height="67" fill="#26a69a"/>
<rect x="1301" y="452" width="5" height="31" fill="#26a69a"/>
<rect x="1309" y="450" width="1" height="37" fill="#ef5350"/>
<rect x="1307" y="452" width="5" height="31" fill="#ef5350"/>
<rect x="1315" y="480" width="1" height="23" fill="#ef5350"/>
<rect x="1313" y="482" width="5" height="6" fill="#ef5350"/>
<rect x="1322" y="451" width="1" height="31" fill="#26a69a"/>
<rect x="1320" y="460" width="5" height="18" fill="#26a69a"/>
<rect x="1328" y="439" width="1" height="31" fill="#26a69a"/>
<rect x="1326" y="447" width="5" height="14" fill="#26a69a"/>
<rect x="1334" y="447" width="1" height="59" fill="#ef5350"/>
<rect x="1332" y="447" width="5" height="16" fill="#ef5350"/>
<rect x="1341" y="378" width="1" height="108" fill="#26a69a"/>
<rect x="1339" y="388" width="5" height="75" fill="#26a69a"/>
<rect x="1347" y="341" width="1" height="71" fill="#26a69a"/>
<rect x="1345" y="345" width="5" height="44" fill="#26a69a"/>
<rect x="1353" y="330" width="1" height="19" fill="#26a69a"/>
<rect x="1351" y="339" width="5" height="7" fill="#26a69a"/>
<rect x="1360" y="326" width="1" height="15" fill="#26a69a"/>
<rect x="1358" y="326" width="5" height="11" fill="#26a69a"/>
<rect x="1366" y="306" width="1" height="21" fill="#26a69a"/>
<rect x="1364" y="315" width="5" height="12" fill="#26a69a"/>
<rect x="1372" y="284" width="1" height="37" fill="#26a69a"/>
<rect x="1370" y="302" width="5" height="15" fill="#26a69a"/>
</g>
<line x1="1" y1="299.5" x2="1695" y2="299.5" stroke="#ef5350" stroke-width="1" stroke-dasharray="1 2"/>
<line x1="1" y1="302.5" x2="1695" y2="302.5" stroke="#2196f3" stroke-width="1.1" stroke-dasharray="1 2"/>
<rect x="1763" y="0" width="80" height="810" fill="#fff"/>
<rect x="0" y="776" width="1843" height="34" fill="#fff"/>
<g fill="#e1e3e8" shape-rendering="crispEdges"><rect x="1763" y="0" width="1" height="810"/><rect x="0" y="775" width="1843" height="1"/></g>
<g font-size="16.5" fill="#131722">
<rect x="1764" y="25" width="4" height="1" fill="#e1e3e8" shape-rendering="crispEdges"/>
<text x="1774.5" y="31.6">4475.00</text>
<rect x="1764" y="70" width="4" height="1" fill="#e1e3e8" shape-rendering="crispEdges"/>
<text x="1774.5" y="76.0">4450.00</text>
<rect x="1764" y="114" width="4" height="1" fill="#e1e3e8" shape-rendering="crispEdges"/>
<text x="1774.5" y="120.3">4425.00</text>
<rect x="1764" y="158" width="4" height="1" fill="#e1e3e8" shape-rendering="crispEdges"/>
<text x="1774.5" y="164.7">4400.00</text>
<rect x="1764" y="203" width="4" height="1" fill="#e1e3e8" shape-rendering="crispEdges"/>
<text x="1774.5" y="209.0">4375.00</text>
<rect x="1764" y="247" width="4" height="1" fill="#e1e3e8" shape-rendering="crispEdges"/>
<text x="1774.5" y="253.3">4350.00</text>
<rect x="1764" y="292" width="4" height="1" fill="#e1e3e8" shape-rendering="crispEdges"/>
<text x="1774.5" y="297.7">4325.00</text>
<rect x="1764" y="336" width="4" height="1" fill="#e1e3e8" shape-rendering="crispEdges"/>
<text x="1774.5" y="342.0">4300.00</text>
<rect x="1764" y="380" width="4" height="1" fill="#e1e3e8" shape-rendering="crispEdges"/>
<text x="1774.5" y="386.4">4275.00</text>
<rect x="1764" y="425" width="4" height="1" fill="#e1e3e8" shape-rendering="crispEdges"/>
<text x="1774.5" y="430.8">4250.00</text>
<rect x="1764" y="469" width="4" height="1" fill="#e1e3e8" shape-rendering="crispEdges"/>
<text x="1774.5" y="475.1">4225.00</text>
<rect x="1764" y="513" width="4" height="1" fill="#e1e3e8" shape-rendering="crispEdges"/>
<text x="1774.5" y="519.5">4200.00</text>
<rect x="1764" y="558" width="4" height="1" fill="#e1e3e8" shape-rendering="crispEdges"/>
<text x="1774.5" y="563.8">4175.00</text>
<rect x="1764" y="602" width="4" height="1" fill="#e1e3e8" shape-rendering="crispEdges"/>
<text x="1774.5" y="608.2">4150.00</text>
<rect x="1764" y="646" width="4" height="1" fill="#e1e3e8" shape-rendering="crispEdges"/>
<text x="1774.5" y="652.5">4125.00</text>
<rect x="1764" y="691" width="4" height="1" fill="#e1e3e8" shape-rendering="crispEdges"/>
<text x="1774.5" y="696.9">4100.00</text>
<rect x="1764" y="735" width="4" height="1" fill="#e1e3e8" shape-rendering="crispEdges"/>
<text x="1774.5" y="741.2">4075.00</text>
</g>
<g font-size="16.5" font-weight="bold" fill="#fff">
<path d="M1763,232H1841q2,0 2,2V255q0,2 -2,2H1763Z" fill="#f44336"/>
<rect x="1763" y="244" width="5" height="1" fill="#fff" shape-rendering="crispEdges"/>
<text x="1775" y="250.6" textLength="60" lengthAdjust="spacingAndGlyphs">4352.07</text>
<path d="M1763,135H1841q2,0 2,2V158q0,2 -2,2H1763Z" fill="#f44336"/>
<rect x="1763" y="147" width="5" height="1" fill="#fff" shape-rendering="crispEdges"/>
<text x="1775" y="153.6" textLength="60" lengthAdjust="spacingAndGlyphs">4406.44</text>
<path d="M1763,315H1841q2,0 2,2V337q0,2 -2,2H1763Z" fill="#f44336"/>
<rect x="1763" y="326" width="5" height="1" fill="#fff" shape-rendering="crispEdges"/>
<text x="1775" y="333.6" textLength="60" lengthAdjust="spacingAndGlyphs">4316.55</text>
<path d="M1763,359H1841q2,0 2,2V382q0,2 -2,2H1763Z" fill="#4caf50"/>
<rect x="1763" y="371" width="5" height="1" fill="#fff" shape-rendering="crispEdges"/>
<text x="1775" y="377.6" textLength="60" lengthAdjust="spacingAndGlyphs">4280.33</text>
<path d="M1763,383H1841q2,0 2,2V406q0,2 -2,2H1763Z" fill="#4caf50"/>
<rect x="1763" y="395" width="5" height="1" fill="#fff" shape-rendering="crispEdges"/>
<text x="1775" y="401.6" textLength="60" lengthAdjust="spacingAndGlyphs">4266.39</text>
<path d="M1763,481H1841q2,0 2,2V504q0,2 -2,2H1763Z" fill="#4caf50"/>
<rect x="1763" y="493" width="5" height="1" fill="#fff" shape-rendering="crispEdges"/>
<text x="1775" y="499.6" textLength="60" lengthAdjust="spacingAndGlyphs">4211.65</text>
<path d="M1763,537H1841q2,0 2,2V560q0,2 -2,2H1763Z" fill="#4caf50"/>
<rect x="1763" y="549" width="5" height="1" fill="#fff" shape-rendering="crispEdges"/>
<text x="1775" y="555.6" textLength="60" lengthAdjust="spacingAndGlyphs">4179.91</text>
<path d="M1763,290H1841q2,0 2,2V313q0,2 -2,2H1763Z" fill="#26a69a"/>
<rect x="1763" y="302" width="5" height="1" fill="#fff" shape-rendering="crispEdges"/>
<text x="1775" y="308.6" textLength="60" lengthAdjust="spacingAndGlyphs">4319.22</text>
<rect x="1762" y="290" width="1" height="25" fill="#fff"/>
<path d="M1698,290H1762V315H1698q-3,0 -3,-3V293q0,-3 3,-3Z" fill="#26a69a"/>
<text x="1700.6" y="308.6" textLength="53.6" lengthAdjust="spacingAndGlyphs">Euro50</text>
</g>
<g font-size="16.5" fill="#131722" text-anchor="middle">
<rect x="106" y="776" width="1" height="4" fill="#e1e3e8" shape-rendering="crispEdges"/>
<text x="106.5" y="798.6" font-weight="bold">Août</text>
<rect x="220" y="776" width="1" height="4" fill="#e1e3e8" shape-rendering="crispEdges"/>
<text x="220.5" y="798.6">4</text>
<rect x="334" y="776" width="1" height="4" fill="#e1e3e8" shape-rendering="crispEdges"/>
<text x="334.5" y="798.6">9</text>
<rect x="448" y="776" width="1" height="4" fill="#e1e3e8" shape-rendering="crispEdges"/>
<text x="448.5" y="798.6">14</text>
<rect x="562" y="776" width="1" height="4" fill="#e1e3e8" shape-rendering="crispEdges"/>
<text x="562.5" y="798.6">17</text>
<rect x="676" y="776" width="1" height="4" fill="#e1e3e8" shape-rendering="crispEdges"/>
<text x="676.5" y="798.6">22</text>
<rect x="790" y="776" width="1" height="4" fill="#e1e3e8" shape-rendering="crispEdges"/>
<text x="790.5" y="798.6">25</text>
<rect x="980" y="776" width="1" height="4" fill="#e1e3e8" shape-rendering="crispEdges"/>
<text x="980.5" y="798.6" font-weight="bold">Sept</text>
<rect x="1094" y="776" width="1" height="4" fill="#e1e3e8" shape-rendering="crispEdges"/>
<text x="1094.5" y="798.6">6</text>
<rect x="1208" y="776" width="1" height="4" fill="#e1e3e8" shape-rendering="crispEdges"/>
<text x="1208.5" y="798.6">11</text>
<rect x="1322" y="776" width="1" height="4" fill="#e1e3e8" shape-rendering="crispEdges"/>
<text x="1322.5" y="798.6">14</text>
<rect x="1429" y="776" width="1" height="4" fill="#e1e3e8" shape-rendering="crispEdges"/>
<text x="1429.5" y="798.6">19</text>
<rect x="1556" y="776" width="1" height="4" fill="#e1e3e8" shape-rendering="crispEdges"/>
<text x="1556.5" y="798.6">25</text>
<rect x="1714" y="776" width="1" height="4" fill="#e1e3e8" shape-rendering="crispEdges"/>
<text x="1714.5" y="798.6" font-weight="bold">Oct</text>
</g>
<g stroke="#131722" stroke-width="1.05" fill="none"><circle cx="1805.5" cy="794.4" r="4.9"/>
<line x1="1810.40" y1="794.40" x2="1812.90" y2="794.40"/>
<line x1="1808.96" y1="797.86" x2="1810.52" y2="799.42"/>
<line x1="1805.50" y1="799.30" x2="1805.50" y2="801.80"/>
<line x1="1802.04" y1="797.86" x2="1800.48" y2="799.42"/>
<line x1="1800.60" y1="794.40" x2="1798.10" y2="794.40"/>
<line x1="1802.04" y1="790.94" x2="1800.48" y2="789.38"/>
<line x1="1805.50" y1="789.50" x2="1805.50" y2="787.00"/>
<line x1="1808.96" y1="790.94" x2="1810.52" y2="789.38"/>
</g>
<rect x="0" y="0" width="466" height="28" fill="rgba(255,255,255,0.5)"/>
<rect x="0" y="28" width="178" height="44" fill="rgba(255,255,255,0.5)"/>
<rect x="0" y="72" width="148" height="48" fill="rgba(255,255,255,0.5)"/>
<g fill="#131722" font-size="14.6"><text x="6.8" y="20" textLength="48.6" lengthAdjust="spacingAndGlyphs">Euro50</text><text x="59.6" y="20" fill="#787b86">·</text><text x="67.6" y="20" textLength="17" lengthAdjust="spacingAndGlyphs">4h</text></g>
<circle cx="109.4" cy="13.8" r="8.5" fill="rgba(8,153,129,0.15)"/><circle cx="109.4" cy="13.8" r="4" fill="#089981"/>
<g font-size="12.7" fill="#26a69a">
<text x="133.5" y="20" fill="#50535e">O</text><text x="143.6" y="20">4311.38</text>
<text x="195.2" y="20" fill="#50535e">H</text><text x="204.4" y="20">4329.30</text>
<text x="256.6" y="20" fill="#50535e">B</text><text x="265.1" y="20">4309.21</text>
<text x="316.2" y="20" fill="#50535e">C</text><text x="324.9" y="20">4319.22</text>
<text x="376.9" y="20">+7.49</text><text x="413.3" y="20" textLength="49.2" lengthAdjust="spacingAndGlyphs">(+0.17%)</text></g>
<rect x="6.5" y="30.5" width="61" height="37" rx="4" fill="#fff" stroke="#ef5350"/>
<text x="37" y="54" font-size="12" fill="#ef5350" text-anchor="middle" textLength="45">4319.22</text>
<rect x="72" y="46" width="36" height="22" rx="4" fill="#f8f9fd"/>
<text x="90" y="61" font-size="12" fill="#131722" text-anchor="middle">200</text>
<text x="90" y="40.8" font-size="10.5" fill="#50535e" text-anchor="middle">1.38</text>
<rect x="112.5" y="30.5" width="61" height="37" rx="4" fill="#fff" stroke="#26a69a"/>
<text x="143.5" y="54" font-size="12" fill="#26a69a" text-anchor="middle" textLength="45">4320.60</text>
<g font-size="12" fill="#131722" lengthAdjust="spacingAndGlyphs"><text x="6.9" y="88.8" textLength="24.2" lengthAdjust="spacingAndGlyphs">EMA</text><text x="35.2" y="88.8" textLength="57.6" fill="#50535e">34 close 0</text><text x="100.9" y="88.8" fill="#e91e63" textLength="45">4259.35</text>
<text x="6.9" y="112.9" textLength="24.2" lengthAdjust="spacingAndGlyphs">EMA</text><text x="35.2" y="112.9" textLength="57.6" fill="#50535e">55 close 0</text><text x="100.9" y="112.9" fill="#9c27b0" textLength="45">4259.78</text></g>
<rect x="7.5" y="122.5" width="28" height="20" rx="3" fill="rgba(255,255,255,0.8)" stroke="#e1e3e8"/>
<path d="M17.5,135 L21.5,131 L25.5,135" fill="none" stroke="#131722" stroke-width="1.3"/>
</svg>
</body></html>
